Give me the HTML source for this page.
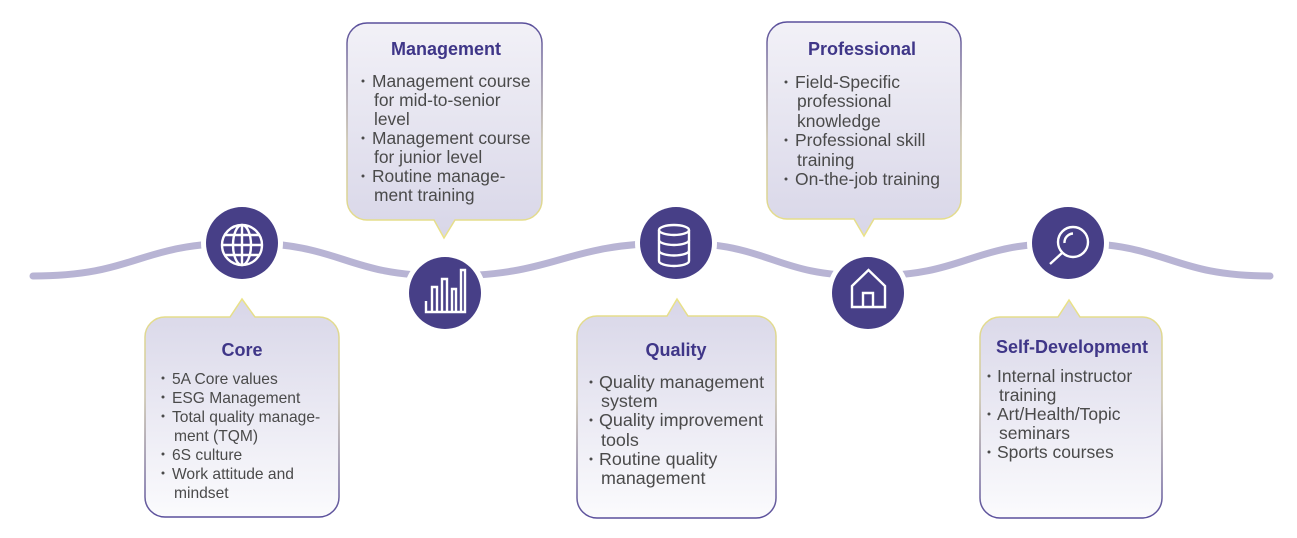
<!DOCTYPE html>
<html>
<head>
<meta charset="utf-8">
<style>
  html,body{margin:0;padding:0;background:#ffffff;}
  svg{display:block;}
  .t{font-family:"Liberation Sans",Arial,sans-serif;font-weight:bold;font-size:18px;fill:#3f3688;text-anchor:middle;}
  .b{font-family:"Liberation Sans",Arial,sans-serif;fill:#4a4a4a;}
  .ic{fill:none;stroke:#ffffff;stroke-width:2.4;stroke-linejoin:miter;}
</style>
</head>
<body>
<svg width="1297" height="538" viewBox="0 0 1297 538" xmlns="http://www.w3.org/2000/svg">
  <defs>
    <linearGradient id="fillDown" x1="0" y1="0" x2="0" y2="1">
      <stop offset="0" stop-color="#d8d6e8"/>
      <stop offset="1" stop-color="#fbfbfd"/>
    </linearGradient>
    <linearGradient id="fillUp" x1="0" y1="0" x2="0" y2="1">
      <stop offset="0" stop-color="#f2f1f7"/>
      <stop offset="1" stop-color="#d8d6e8"/>
    </linearGradient>
    <linearGradient id="strokeDown" x1="0" y1="0" x2="0" y2="1">
      <stop offset="0" stop-color="#ebe385"/>
      <stop offset="0.45" stop-color="#c9c2a8"/>
      <stop offset="1" stop-color="#5a4f9c"/>
    </linearGradient>
    <linearGradient id="strokeUp" x1="0" y1="0" x2="0" y2="1">
      <stop offset="0" stop-color="#5a4f9c"/>
      <stop offset="0.55" stop-color="#c9c2a8"/>
      <stop offset="1" stop-color="#ebe385"/>
    </linearGradient>
  </defs>

  <!-- wave line -->
  <path d="M33,276 C138,276 137,243 242,243 C344,243 343,276 445,276 C561,276 560,243 676,243 C772,243 772,276 868,276 C968,276 968,243 1068,243 C1169,243 1169,276 1270,276"
        fill="none" stroke="#b8b4d4" stroke-width="7" stroke-linecap="round"/>

  <!-- circles -->
  <g>
    <circle cx="242" cy="243" r="41" fill="#fff"/>
    <circle cx="242" cy="243" r="36" fill="#473f87"/>
    <circle cx="445" cy="293" r="41" fill="#fff"/>
    <circle cx="445" cy="293" r="36" fill="#473f87"/>
    <circle cx="676" cy="243" r="41" fill="#fff"/>
    <circle cx="676" cy="243" r="36" fill="#473f87"/>
    <circle cx="868" cy="293" r="41" fill="#fff"/>
    <circle cx="868" cy="293" r="36" fill="#473f87"/>
    <circle cx="1068" cy="243" r="41" fill="#fff"/>
    <circle cx="1068" cy="243" r="36" fill="#473f87"/>
  </g>

  <!-- globe icon -->
  <g class="ic">
    <circle cx="242" cy="245" r="20"/>
    <ellipse cx="242" cy="245" rx="9" ry="20"/>
    <line x1="242" y1="225" x2="242" y2="265"/>
    <line x1="222" y1="245" x2="262" y2="245"/>
    <line x1="225.5" y1="235" x2="258.5" y2="235"/>
    <line x1="225.5" y1="255" x2="258.5" y2="255"/>
  </g>

  <!-- chart icon -->
  <g class="ic">
    <path d="M426,301 V312 H465 V270 H461 V312"/>
    <path d="M432,312 V287 H437 V312"/>
    <path d="M442,312 V279 H447 V312"/>
    <path d="M452,312 V289 H456 V312"/>
  </g>

  <!-- database icon -->
  <g class="ic">
    <ellipse cx="674" cy="230" rx="15" ry="5"/>
    <path d="M659,230 V261 A15,5 0 0 0 689,261 V230"/>
    <path d="M659,240 A15,5 0 0 0 689,240"/>
    <path d="M659,250.5 A15,5 0 0 0 689,250.5"/>
  </g>

  <!-- house icon -->
  <g class="ic">
    <path d="M852,286 L868.5,270 L885,286 V307 H852 Z"/>
    <path d="M863,307 V293 H873 V307"/>
  </g>

  <!-- search icon -->
  <g class="ic">
    <circle cx="1073" cy="242" r="15"/>
    <line x1="1062" y1="253" x2="1050" y2="264"/>
    <path d="M1064.5,243 A9,9 0 0 1 1073,233.5"/>
  </g>

  <!-- Core box -->
  <path d="M165,317 H230 L242,299 L255,317 H319 A20,20 0 0 1 339,337 V497 A20,20 0 0 1 319,517 H165 A20,20 0 0 1 145,497 V337 A20,20 0 0 1 165,317 Z"
        fill="url(#fillDown)" stroke="url(#strokeDown)" stroke-width="1.5"/>
  <text class="t" x="242" y="356">Core</text>
  <g class="b" font-size="15.6">
    <circle cx="163" cy="378" r="1.5" fill="#4a4a4a"/>
    <text x="172" y="384">5A Core values</text>
    <circle cx="163" cy="397" r="1.5" fill="#4a4a4a"/>
    <text x="172" y="403">ESG Management</text>
    <circle cx="163" cy="416" r="1.5" fill="#4a4a4a"/>
    <text x="172" y="422">Total quality manage-</text>
    <text x="174" y="441">ment (TQM)</text>
    <circle cx="163" cy="454" r="1.5" fill="#4a4a4a"/>
    <text x="172" y="460">6S culture</text>
    <circle cx="163" cy="473" r="1.5" fill="#4a4a4a"/>
    <text x="172" y="479">Work attitude and</text>
    <text x="174" y="498">mindset</text>
  </g>

  <!-- Management box -->
  <path d="M367,23 H522 A20,20 0 0 1 542,43 V200 A20,20 0 0 1 522,220 H455 L444,238 L434,220 H367 A20,20 0 0 1 347,200 V43 A20,20 0 0 1 367,23 Z"
        fill="url(#fillUp)" stroke="url(#strokeUp)" stroke-width="1.5"/>
  <text class="t" x="446" y="55">Management</text>
  <g class="b" font-size="17.4">
    <circle cx="363" cy="81" r="1.5" fill="#4a4a4a"/>
    <text x="372" y="87">Management course</text>
    <text x="374" y="106">for mid-to-senior</text>
    <text x="374" y="125">level</text>
    <circle cx="363" cy="138" r="1.5" fill="#4a4a4a"/>
    <text x="372" y="144">Management course</text>
    <text x="374" y="163">for junior level</text>
    <circle cx="363" cy="176" r="1.5" fill="#4a4a4a"/>
    <text x="372" y="182">Routine manage-</text>
    <text x="374" y="201">ment training</text>
  </g>

  <!-- Quality box -->
  <path d="M597,316 H667 L677,299 L688,316 H756 A20,20 0 0 1 776,336 V498 A20,20 0 0 1 756,518 H597 A20,20 0 0 1 577,498 V336 A20,20 0 0 1 597,316 Z"
        fill="url(#fillDown)" stroke="url(#strokeDown)" stroke-width="1.5"/>
  <text class="t" x="676" y="356">Quality</text>
  <g class="b" font-size="17.9">
    <circle cx="591" cy="382" r="1.5" fill="#4a4a4a"/>
    <text x="599" y="388">Quality management</text>
    <text x="601" y="407">system</text>
    <circle cx="591" cy="420" r="1.5" fill="#4a4a4a"/>
    <text x="599" y="426">Quality improvement</text>
    <text x="601" y="446">tools</text>
    <circle cx="591" cy="459" r="1.5" fill="#4a4a4a"/>
    <text x="599" y="465">Routine quality</text>
    <text x="601" y="484">management</text>
  </g>

  <!-- Professional box -->
  <path d="M787,22 H941 A20,20 0 0 1 961,42 V199 A20,20 0 0 1 941,219 H874 L864,236 L854,219 H787 A20,20 0 0 1 767,199 V42 A20,20 0 0 1 787,22 Z"
        fill="url(#fillUp)" stroke="url(#strokeUp)" stroke-width="1.5"/>
  <text class="t" x="862" y="55">Professional</text>
  <g class="b" font-size="17.5">
    <circle cx="786" cy="82" r="1.5" fill="#4a4a4a"/>
    <text x="795" y="88">Field-Specific</text>
    <text x="797" y="107">professional</text>
    <text x="797" y="127">knowledge</text>
    <circle cx="786" cy="140" r="1.5" fill="#4a4a4a"/>
    <text x="795" y="146">Professional skill</text>
    <text x="797" y="166">training</text>
    <circle cx="786" cy="179" r="1.5" fill="#4a4a4a"/>
    <text x="795" y="185">On-the-job training</text>
  </g>

  <!-- Self-Development box -->
  <path d="M1000,317 H1058 L1069,300 L1080,317 H1142 A20,20 0 0 1 1162,337 V498 A20,20 0 0 1 1142,518 H1000 A20,20 0 0 1 980,498 V337 A20,20 0 0 1 1000,317 Z"
        fill="url(#fillDown)" stroke="url(#strokeDown)" stroke-width="1.5"/>
  <text class="t" x="1072" y="353">Self-Development</text>
  <g class="b" font-size="17.5">
    <circle cx="989" cy="376" r="1.5" fill="#4a4a4a"/>
    <text x="997" y="382">Internal instructor</text>
    <text x="999" y="401">training</text>
    <circle cx="989" cy="414" r="1.5" fill="#4a4a4a"/>
    <text x="997" y="420">Art/Health/Topic</text>
    <text x="999" y="439">seminars</text>
    <circle cx="989" cy="452" r="1.5" fill="#4a4a4a"/>
    <text x="997" y="458">Sports courses</text>
  </g>
</svg>
</body>
</html>
